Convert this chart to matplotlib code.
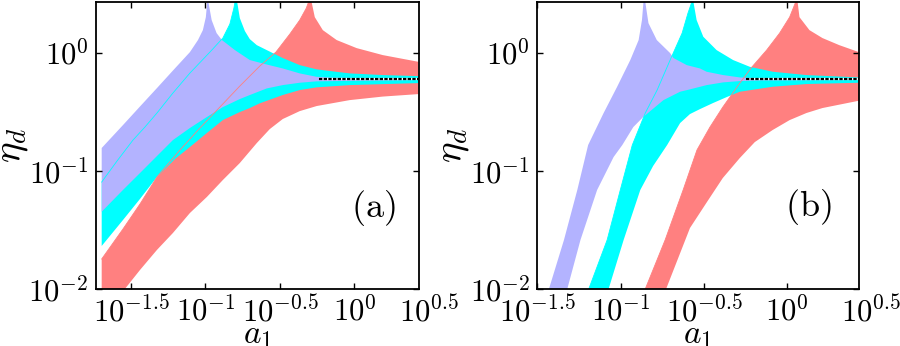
import matplotlib
matplotlib.use("Agg")
import matplotlib.pyplot as plt
import matplotlib.transforms as mtransforms
import numpy as np

plt.rcParams["mathtext.fontset"] = "cm"
plt.rcParams["font.family"] = "serif"
plt.rcParams["font.serif"] = ["DejaVu Serif"]

RED = "#ff8080"
CYAN = "#00ffff"
LAVENDER = "#b3b3ff"

# all curve values are (log10 a1, log10 eta)
# ---------- panel (a) ----------
a_red_lower = [(-1.696, -2.253), (-1.540, -1.999), (-1.439, -1.839), (-1.325, -1.669),
               (-1.218, -1.526), (-1.104, -1.357), (-0.990, -1.221), (-0.883, -1.078),
               (-0.769, -0.934), (-0.655, -0.765), (-0.568, -0.647), (-0.481, -0.562),
               (-0.367, -0.495), (-0.253, -0.452), (-0.032, -0.402), (0.190, -0.372),
               (0.430, -0.351)]
a_red_upper_left = [(-1.696, -1.746), (-1.553, -1.492), (-1.439, -1.281), (-1.325, -1.052),
                    (-1.171, -0.824), (-1.037, -0.638), (-0.903, -0.461), (-0.769, -0.283),
                    (-0.635, -0.114), (-0.527, 0.004), (-0.434, 0.156), (-0.367, 0.275),
                    (-0.323, 0.376), (-0.303, 0.444)]
a_red_upper_right = [(-0.290, 0.444), (-0.266, 0.300), (-0.212, 0.190), (-0.119, 0.106),
                     (0.015, 0.038), (0.190, -0.021), (0.430, -0.078)]
a_red_pole = -0.296

a_cyan_lower = [(-1.696, -1.636), (-1.553, -1.416), (-1.439, -1.238), (-1.325, -1.052),
                (-1.204, -0.900), (-1.104, -0.799), (-0.990, -0.680), (-0.883, -0.571),
                (-0.769, -0.503), (-0.702, -0.469), (-0.635, -0.429), (-0.481, -0.359),
                (-0.367, -0.317), (-0.253, -0.294), (-0.032, -0.275), (0.430, -0.258)]
a_cyan_upper_left = [(-1.696, -1.095), (-1.593, -0.917), (-1.486, -0.740), (-1.406, -0.630),
                     (-1.325, -0.511), (-1.218, -0.342), (-1.104, -0.173), (-0.970, 0.004),
                     (-0.883, 0.123), (-0.836, 0.241), (-0.809, 0.376), (-0.799, 0.444)]
a_cyan_upper_right = [(-0.789, 0.444), (-0.769, 0.292), (-0.735, 0.182), (-0.702, 0.114),
                      (-0.655, 0.063), (-0.588, 0.021), (-0.481, -0.046), (-0.367, -0.106),
                      (-0.253, -0.142), (-0.032, -0.176), (0.190, -0.190), (0.430, -0.199)]
a_cyan_pole = -0.794

a_lav_lower = [(-1.696, -1.346), (-1.553, -1.162), (-1.439, -1.019), (-1.325, -0.875),
               (-1.218, -0.740), (-1.104, -0.638), (-0.990, -0.545), (-0.883, -0.461),
               (-0.769, -0.393), (-0.702, -0.359), (-0.588, -0.303), (-0.481, -0.275),
               (-0.367, -0.255), (-0.253, -0.243), (0.430, -0.232)]
a_lav_upper_left = [(-1.696, -0.807), (-1.553, -0.613), (-1.439, -0.456), (-1.325, -0.300),
                    (-1.218, -0.152), (-1.104, 0.004), (-1.050, 0.106), (-1.017, 0.190),
                    (-0.997, 0.300), (-0.988, 0.427)]
a_lav_upper_right = [(-0.980, 0.427), (-0.958, 0.275), (-0.925, 0.165), (-0.889, 0.106),
                     (-0.802, 0.021), (-0.702, -0.063), (-0.588, -0.101), (-0.481, -0.134),
                     (-0.367, -0.176), (-0.253, -0.205), (-0.145, -0.213), (0.430, -0.221)]
a_lav_pole = -0.985

# ---------- panel (b) ----------
b_red_lower = [(-0.800, -2.261), (-0.727, -1.999), (-0.584, -1.484), (-0.482, -1.264),
               (-0.387, -1.061), (-0.285, -0.892), (-0.195, -0.757), (-0.088, -0.655),
               (0.014, -0.571), (0.115, -0.511), (0.211, -0.469), (0.430, -0.407)]
b_red_upper_left = [(-0.928, -2.261), (-0.852, -1.999), (-0.733, -1.585), (-0.625, -1.162),
                    (-0.542, -0.824), (-0.464, -0.630), (-0.387, -0.461), (-0.285, -0.258),
                    (-0.213, -0.123), (-0.124, 0.021), (-0.046, 0.165), (0.014, 0.300),
                    (0.050, 0.427)]
b_red_upper_right = [(0.062, 0.427), (0.073, 0.300), (0.133, 0.190), (0.211, 0.123),
                     (0.312, 0.063), (0.430, 0.004)]
b_red_pole = 0.056

b_cyan_lower = [(-1.128, -2.261), (-1.072, -1.999), (-0.982, -1.585), (-0.882, -1.162),
                (-0.805, -0.959), (-0.721, -0.782), (-0.643, -0.596), (-0.584, -0.520),
                (-0.524, -0.478), (-0.446, -0.427), (-0.363, -0.376), (-0.285, -0.331),
                (-0.088, -0.289), (0.115, -0.266), (0.430, -0.255)]
b_cyan_upper_left = [(-1.260, -2.261), (-1.191, -1.999), (-1.081, -1.585), (-1.002, -1.162),
                     (-0.930, -0.782), (-0.852, -0.511), (-0.781, -0.317), (-0.703, -0.063),
                     (-0.631, 0.165), (-0.596, 0.334), (-0.573, 0.427)]
b_cyan_upper_right = [(-0.563, 0.427), (-0.544, 0.275), (-0.504, 0.134), (-0.424, 0.021),
                      (-0.325, -0.063), (-0.225, -0.120), (-0.086, -0.162), (0.114, -0.190),
                      (0.430, -0.210)]
b_cyan_pole = -0.569

b_lav_lower = [(-1.370, -2.261), (-1.320, -1.999), (-1.241, -1.585), (-1.141, -1.162),
               (-1.042, -0.883), (-0.990, -0.782), (-0.924, -0.630), (-0.863, -0.543),
               (-0.743, -0.402), (-0.643, -0.331), (-0.584, -0.311), (-0.484, -0.275),
               (-0.385, -0.252), (-0.285, -0.241), (-0.165, -0.235), (0.430, -0.232)]
b_lav_upper_left = [(-1.487, -2.261), (-1.430, -1.999), (-1.340, -1.585), (-1.260, -1.162),
                    (-1.195, -0.782), (-1.102, -0.511), (-1.022, -0.292), (-0.942, -0.063),
                    (-0.892, 0.106), (-0.872, 0.275), (-0.863, 0.427)]
b_lav_upper_right = [(-0.852, 0.427), (-0.833, 0.249), (-0.783, 0.106), (-0.703, -0.004),
                     (-0.683, -0.046), (-0.603, -0.106), (-0.524, -0.134), (-0.484, -0.162),
                     (-0.385, -0.190), (-0.285, -0.210), (-0.165, -0.220), (0.430, -0.221)]
b_lav_pole = -0.860

# limiting value (dashed line) and where it starts
eta_limit = 0.6
a_limit_start = 10 ** -0.237
b_limit_start = 10 ** -0.245

xlim_a = (10 ** -1.734, 10 ** 0.43)
xlim_b = (10 ** -1.5, 10 ** 0.43)
ylim = (1e-2, 10 ** 0.428)

xtick_exp = [-1.5, -1, -0.5, 0]
ytick_exp = [-2, -1, 0]

TICK_FS = 22


def band_polygon(lower, upper_left, upper_right, pole):
    pts = list(lower) + list(reversed(upper_right)) + [(pole, 1.0)] + list(reversed(upper_left))
    arr = np.array(pts)
    return 10 ** arr[:, 0], 10 ** arr[:, 1]


def draw_panel(fig, rect, xlim, bands, limit_start, tag, tag_pos):
    ax = fig.add_axes(rect)
    ax.set_xscale("log")
    ax.set_yscale("log")
    for lower, ul, ur, pole, color in bands:
        x, y = band_polygon(lower, ul, ur, pole)
        ax.fill(x, y, color=color, edgecolor="none", lw=0)
    # faint edges of the underlying bands, visible through the top ones
    for lower, ul, ur, pole, color in bands[:2]:
        arr = 10 ** np.array(ul)
        ax.plot(arr[:, 0], arr[:, 1], color=color, lw=0.6)

    ax.plot([limit_start, xlim[1]], [eta_limit, eta_limit], color="white", lw=1.6,
            solid_capstyle="butt")
    ax.plot([limit_start, xlim[1]], [eta_limit, eta_limit], color="black", lw=1.6,
            linestyle=(0, (1.5, 0.6)))

    ax.set_xlim(*xlim)
    ax.set_ylim(*ylim)
    ax.set_xticks([10 ** e for e in xtick_exp])
    ax.set_xticklabels([r"$10^{%g}$" % e for e in xtick_exp])
    ax.set_yticks([10.0 ** e for e in ytick_exp])
    ax.set_yticklabels([r"$10^{%g}$" % e for e in ytick_exp])
    ax.minorticks_off()
    ax.tick_params(direction="in", top=True, right=True, length=4, width=1,
                   labelsize=TICK_FS, pad=5.5)
    for sp in ax.spines.values():
        sp.set_linewidth(1.3)

    # the 10^0.5 label sits just past the right edge of the axes
    trans = mtransforms.offset_copy(ax.get_xaxis_transform(), fig=fig, y=-5.5, units="points")
    ax.text(10 ** 0.5, 0, r"$10^{0.5}$", transform=trans, ha="center", va="top",
            fontsize=TICK_FS, clip_on=False)

    ax.set_xlabel(r"$a_1$", fontsize=24, labelpad=-7.5)
    ax.set_ylabel(r"$\eta_d$", fontsize=28, labelpad=-1)
    ax.text(tag_pos[0], tag_pos[1], tag, transform=ax.transAxes, fontsize=26,
            ha="center", va="center")
    return ax


fig = plt.figure(figsize=(9, 3.46), dpi=100)

bands_a = [
    (a_red_lower, a_red_upper_left, a_red_upper_right, a_red_pole, RED),
    (a_cyan_lower, a_cyan_upper_left, a_cyan_upper_right, a_cyan_pole, CYAN),
    (a_lav_lower, a_lav_upper_left, a_lav_upper_right, a_lav_pole, LAVENDER),
]
bands_b = [
    (b_red_lower, b_red_upper_left, b_red_upper_right, b_red_pole, RED),
    (b_cyan_lower, b_cyan_upper_left, b_cyan_upper_right, b_cyan_pole, CYAN),
    (b_lav_lower, b_lav_upper_left, b_lav_upper_right, b_lav_pole, LAVENDER),
]

draw_panel(fig, [0.1067, 0.1647, 0.3583, 0.8295], xlim_a, bands_a, a_limit_start,
           r"$\mathrm{(a)}$", (0.859, 0.282))
draw_panel(fig, [0.5970, 0.1647, 0.3574, 0.8295], xlim_b, bands_b, b_limit_start,
           r"$\mathrm{(b)}$", (0.842, 0.287))

fig.savefig("out.png", dpi=100)
